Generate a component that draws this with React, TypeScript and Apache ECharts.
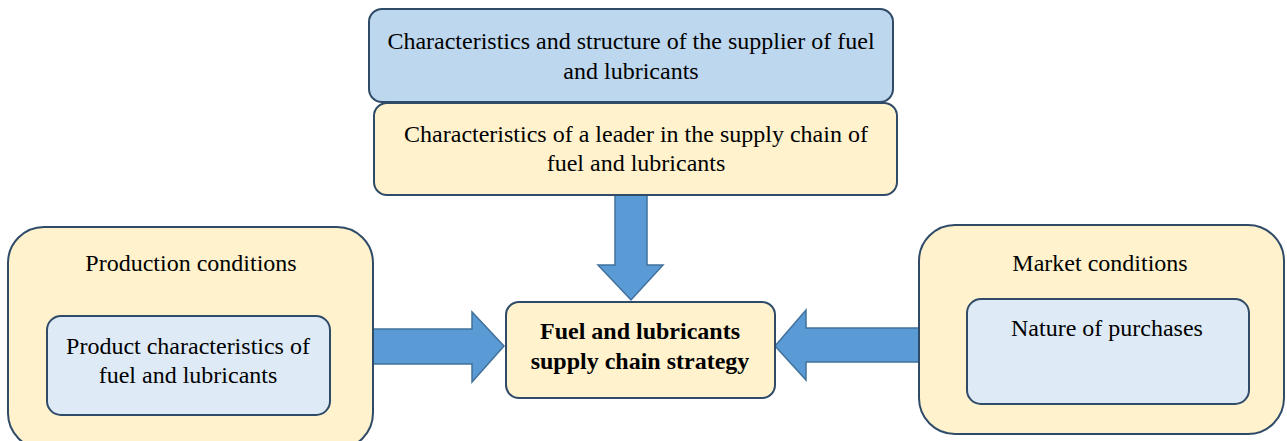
import React, { useEffect, useRef } from "react";
import * as echarts from "echarts";

// Diagram content
const topLabels = ["Characteristics and structure of the supplier of fuel", "and lubricants"];
const leaderLabels = ["Characteristics of a leader in the supply chain of", "fuel and lubricants"];
const centerLabels = ["Fuel and lubricants", "supply chain strategy"];
const leftOuterLabels = ["Production conditions"];
const leftInnerLabels = ["Product characteristics of", "fuel and lubricants"];
const rightOuterLabels = ["Market conditions"];
const rightInnerLabels = ["Nature of purchases"];

const FONT = "'Liberation Serif', 'Times New Roman', serif";
const STROKE = "#2F4B68";
const YELLOW = "#FFF2CC";
const BLUE = "#BDD7EE";
const LIGHTBLUE = "#DEEBF7";
const ARROW_FILL = "#5B9BD5";
const ARROW_STROKE = "#41719C";

function box(x: number, y: number, w: number, h: number, r: number, fill: string) {
  return {
    type: "rect",
    shape: { x, y, width: w, height: h, r },
    style: { fill, stroke: STROKE, lineWidth: 2 },
  };
}

function texts(lines: string[], cx: number, y0: number, lh: number, size: number, bold = false) {
  return lines.map((t, i) => ({
    type: "text",
    style: {
      text: t,
      x: cx,
      y: y0 + i * lh,
      align: "center",
      verticalAlign: "middle",
      font: `${bold ? "bold " : ""}${size}px ${FONT}`,
      fill: "#000",
    },
  }));
}

function arrow(points: number[][]) {
  return {
    type: "polygon",
    shape: { points },
    style: { fill: ARROW_FILL, stroke: ARROW_STROKE, lineWidth: 1.5 },
  };
}

export default function App() {
  const ref = useRef<HTMLDivElement>(null);
  useEffect(() => {
    if (!ref.current) return;
    const chart = echarts.init(ref.current, undefined, { renderer: "svg" });
    const elements: any[] = [
      // arrows (under boxes)
      arrow([[615, 194], [647, 194], [647, 265], [663, 265], [631, 300], [598, 265], [615, 265]]),
      arrow([[372, 329], [472, 329], [472, 312], [504, 346], [472, 382], [472, 364], [372, 364]]),
      arrow([[920, 328], [806, 328], [806, 310], [775, 346], [806, 380], [806, 362], [920, 362]]),
      // top boxes
      box(369, 9, 524, 93, 13, BLUE),
      ...texts(topLabels, 631, 41, 30, 24),
      box(374, 103, 523, 92, 13, YELLOW),
      ...texts(leaderLabels, 636, 134, 29, 24),
      // center
      box(506, 302, 269, 96, 13, YELLOW),
      ...texts(centerLabels, 640, 331, 30, 24, true),
      // left
      box(8, 227, 365, 222, 36, YELLOW),
      ...texts(leftOuterLabels, 191, 263, 30, 24),
      box(47, 316, 283, 99, 14, LIGHTBLUE),
      ...texts(leftInnerLabels, 188, 346, 29, 24),
      // right
      box(919, 225, 365, 209, 36, YELLOW),
      ...texts(rightOuterLabels, 1100, 263, 30, 24),
      box(967, 299, 282, 105, 14, LIGHTBLUE),
      ...texts(rightInnerLabels, 1107, 328, 30, 24),
    ];
    chart.setOption({
      animation: false,
      backgroundColor: "#ffffff",
      graphic: { elements },
    });
    return () => chart.dispose();
  }, []);
  return (
    <div
      ref={ref}
      style={{ position: "absolute", left: 0, top: 0, width: 1287, height: 441 }}
    />
  );
}
